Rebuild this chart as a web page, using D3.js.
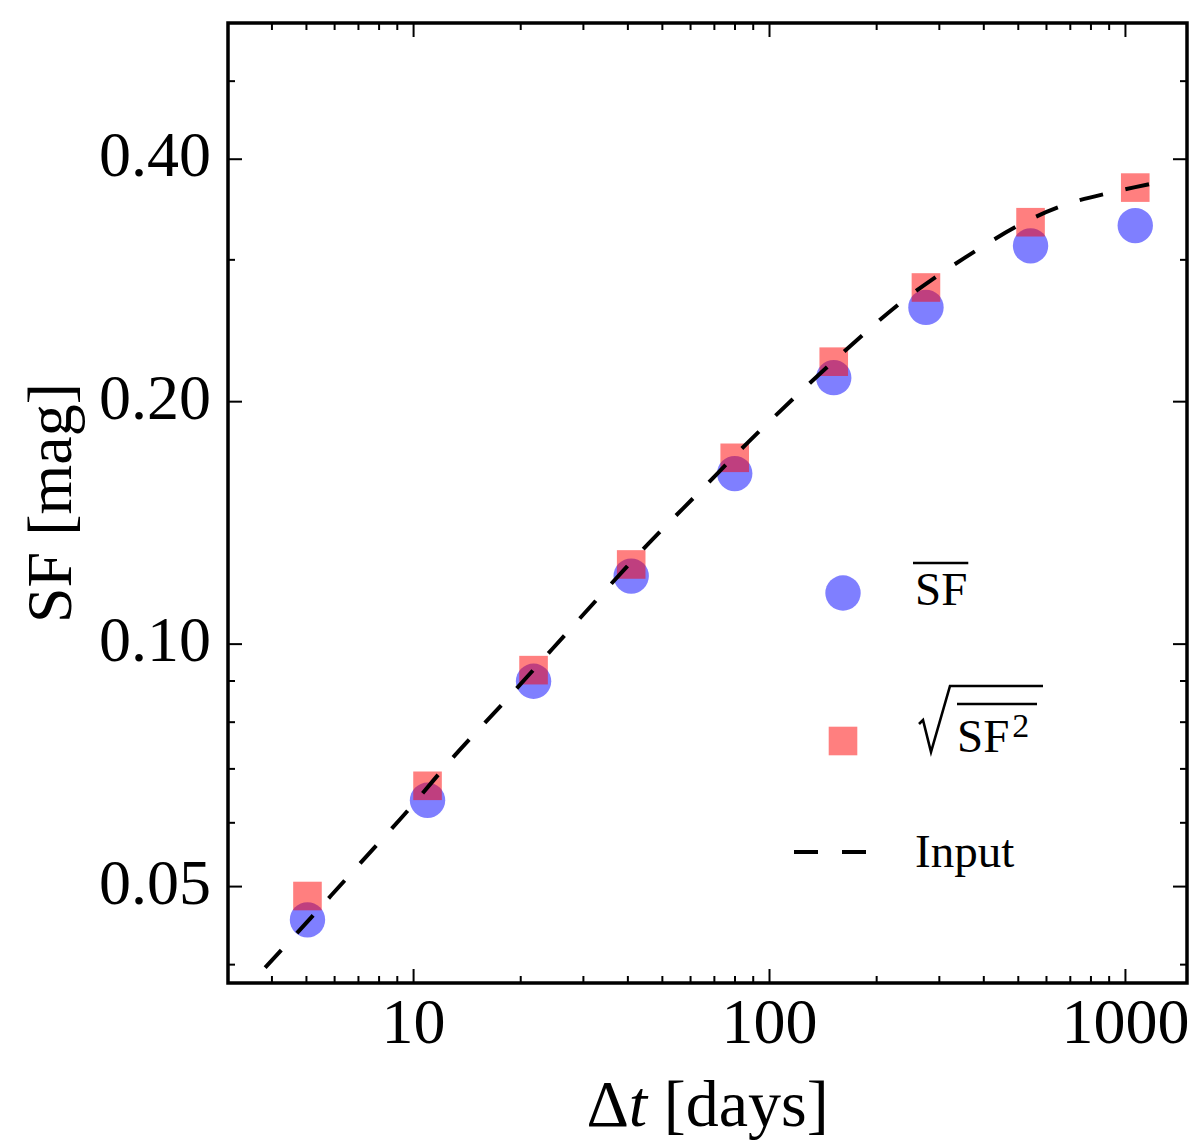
<!DOCTYPE html>
<html>
<head>
<meta charset="utf-8">
<script src="https://cdn.jsdelivr.net/npm/d3@7"></script>
<style>
  body { margin: 0; background: #fff; }
  svg { display: block; }
  text { font-family: "Liberation Serif", "DejaVu Serif", serif; fill: #000; }
</style>
</head>
<body>
<svg id="chart" width="1200" height="1143"></svg>
<script>
// time lags of the bins [days]
var dtBins = [5.05, 10.98, 21.8, 41.0, 80.1, 152, 276, 543, 1069];
// mean SF per bin
var sfMean = [0.0454, 0.0639, 0.0898, 0.1213, 0.1626, 0.2139, 0.2615, 0.3118, 0.3304];
// sqrt of mean SF^2 per bin
var sfRms = [0.0486, 0.0666, 0.0927, 0.1254, 0.1701, 0.2239, 0.2768, 0.3336, 0.3683];
// input structure function
var inputDt = [3.84, 5.24, 7.14, 9.68, 13.12, 17.89, 24.57, 33.3, 45.7, 63.2, 87.3, 122.2, 171.1, 242.6, 355.3, 527, 696, 937, 1270];
var inputSF = [0.0396, 0.0460, 0.0535, 0.0621, 0.0727, 0.0843, 0.0984, 0.1142, 0.1329, 0.1537, 0.1778, 0.2051, 0.2352, 0.2682, 0.3015, 0.3342, 0.3519, 0.3641, 0.3747];

var xTickValues = [10, 100, 1000];
var yTickValues = [0.05, 0.10, 0.20, 0.40];

// plot box (note: "top" is taken by window.top, so prefix everything)
var pLeft = 228, pRight = 1187, pTop = 23, pBottom = 983;

var svg = d3.select("#chart");

var x = d3.scaleLog().domain([3.02, 1494]).range([pLeft, pRight]);
var y = d3.scaleLog().domain([0.0379, 0.5896]).range([pBottom, pTop]);

// minor ticks: 2..9 x 10^k inside the domain, skipping the labelled ones
function minorTicks(scale, major) {
  var d = scale.domain(), out = [];
  var k0 = Math.floor(Math.log10(d[0])), k1 = Math.ceil(Math.log10(d[1]));
  for (var k = k0; k <= k1; k++) {
    for (var m = 1; m <= 9; m++) {
      var v = +(m * Math.pow(10, k)).toPrecision(6);
      if (v > d[0] && v < d[1] && major.indexOf(v) < 0) out.push(v);
    }
  }
  return out;
}
var xMinor = minorTicks(x, xTickValues);
var yMinor = minorTicks(y, yTickValues);

function styleAxis(g) {
  g.select(".domain").remove();
  g.selectAll(".tick line").attr("stroke", "#000").attr("stroke-width", 2);
}

// bottom
svg.append("g").attr("transform", "translate(0," + pBottom + ")")
  .call(d3.axisBottom(x).tickValues(xTickValues).tickSize(-14).tickFormat(d3.format("d")))
  .call(styleAxis)
  .call(function (g) {
    g.selectAll("text").attr("y", 60).attr("dy", null)
      .style("font-family", "Liberation Serif").style("font-size", "64px");
  });
svg.append("g").attr("transform", "translate(0," + pBottom + ")")
  .call(d3.axisBottom(x).tickValues(xMinor).tickSize(-7).tickFormat(""))
  .call(styleAxis);
// top
svg.append("g").attr("transform", "translate(0," + pTop + ")")
  .call(d3.axisTop(x).tickValues(xTickValues).tickSize(-14).tickFormat(""))
  .call(styleAxis);
svg.append("g").attr("transform", "translate(0," + pTop + ")")
  .call(d3.axisTop(x).tickValues(xMinor).tickSize(-7).tickFormat(""))
  .call(styleAxis);
// left
svg.append("g").attr("transform", "translate(" + pLeft + ",0)")
  .call(d3.axisLeft(y).tickValues(yTickValues).tickSize(-14).tickPadding(17).tickFormat(d3.format(".2f")))
  .call(styleAxis)
  .call(function (g) {
    g.selectAll("text").attr("dy", "0.27em")
      .style("font-family", "Liberation Serif").style("font-size", "64px");
  });
svg.append("g").attr("transform", "translate(" + pLeft + ",0)")
  .call(d3.axisLeft(y).tickValues(yMinor).tickSize(-7).tickFormat(""))
  .call(styleAxis);
// right
svg.append("g").attr("transform", "translate(" + pRight + ",0)")
  .call(d3.axisRight(y).tickValues(yTickValues).tickSize(-14).tickFormat(""))
  .call(styleAxis);
svg.append("g").attr("transform", "translate(" + pRight + ",0)")
  .call(d3.axisRight(y).tickValues(yMinor).tickSize(-7).tickFormat(""))
  .call(styleAxis);

// frame
svg.append("rect")
  .attr("x", pLeft).attr("y", pTop)
  .attr("width", pRight - pLeft).attr("height", pBottom - pTop)
  .attr("fill", "none").attr("stroke", "#000").attr("stroke-width", 3.5);

// markers
var sq = 28.6;
svg.append("g").selectAll("circle")
  .data(dtBins)
  .join("circle")
  .attr("cx", function (d) { return x(d); })
  .attr("cy", function (d, i) { return y(sfMean[i]); })
  .attr("r", 17.7)
  .attr("fill", "blue").attr("fill-opacity", 0.5);

svg.append("g").selectAll("rect")
  .data(dtBins)
  .join("rect")
  .attr("x", function (d) { return x(d) - sq / 2; })
  .attr("y", function (d, i) { return y(sfRms[i]) - sq / 2; })
  .attr("width", sq).attr("height", sq)
  .attr("fill", "red").attr("fill-opacity", 0.5);

// input curve
var line = d3.line()
  .x(function (d) { return x(d); })
  .y(function (d, i) { return y(inputSF[i]); })
  .curve(d3.curveCatmullRom.alpha(0.5));

svg.append("path")
  .datum(inputDt)
  .attr("d", line)
  .attr("fill", "none")
  .attr("stroke", "#000")
  .attr("stroke-width", 4)
  .attr("stroke-dasharray", "24,23");

// axis labels
var xl = svg.append("text")
  .attr("x", (pLeft + pRight) / 2).attr("y", 1126)
  .attr("text-anchor", "middle")
  .style("font-size", "66px");
xl.append("tspan").text("\u0394");
xl.append("tspan").style("font-style", "italic").text("t");
xl.append("tspan").text(" [days]");

svg.append("text")
  .attr("transform", "translate(71," + ((pTop + pBottom) / 2) + ") rotate(-90)")
  .attr("text-anchor", "middle")
  .style("font-size", "64px")
  .text("SF [mag]");

// legend
var lg = svg.append("g");
var mx = 843, tx = 915;

lg.append("circle").attr("cx", mx).attr("cy", 593).attr("r", 17.7)
  .attr("fill", "blue").attr("fill-opacity", 0.5);
var t1 = lg.append("text").attr("x", tx).attr("y", 605)
  .style("font-size", "47px").text("SF");
var w1 = t1.node().getComputedTextLength();
lg.append("line").attr("x1", tx - 2).attr("x2", tx + w1 + 1)
  .attr("y1", 563).attr("y2", 563)
  .attr("stroke", "#000").attr("stroke-width", 2.5);

lg.append("rect").attr("x", mx - sq / 2).attr("y", 741 - sq / 2)
  .attr("width", sq).attr("height", sq)
  .attr("fill", "red").attr("fill-opacity", 0.5);
// radical sign
lg.append("path")
  .attr("d", "M919,724 L923,720 L931,752 L950,686 L1043,686")
  .attr("fill", "none").attr("stroke", "#000").attr("stroke-width", 2.6)
  .attr("stroke-linejoin", "miter");
var t2 = lg.append("text").attr("x", 957).attr("y", 752)
  .style("font-size", "47px");
t2.append("tspan").text("SF");
t2.append("tspan").attr("dx", 3).attr("dy", -15).style("font-size", "34px").text("2");
lg.append("line").attr("x1", 957).attr("x2", 1037)
  .attr("y1", 704).attr("y2", 704)
  .attr("stroke", "#000").attr("stroke-width", 2.6);

lg.append("line").attr("x1", 794).attr("x2", 866)
  .attr("y1", 852).attr("y2", 852)
  .attr("stroke", "#000").attr("stroke-width", 4)
  .attr("stroke-dasharray", "24,24");
lg.append("text").attr("x", tx).attr("y", 867)
  .style("font-size", "47px").text("Input");
</script>
</body>
</html>
